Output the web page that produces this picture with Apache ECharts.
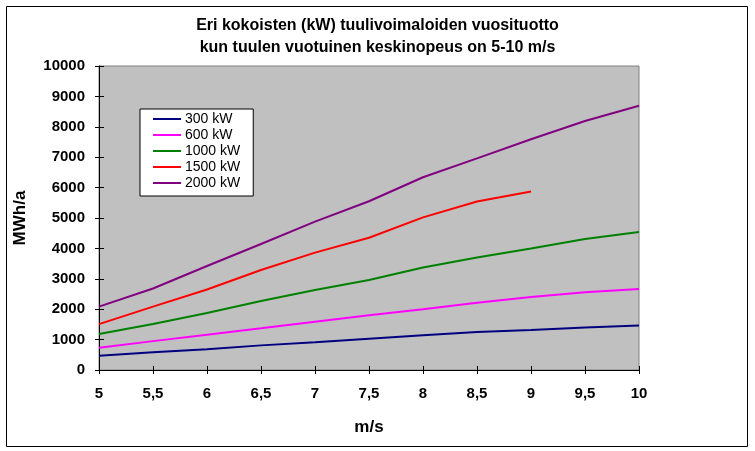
<!DOCTYPE html>
<html>
<head>
<meta charset="utf-8">
<script src="https://cdn.jsdelivr.net/npm/echarts@6/dist/echarts.min.js"></script>
<style>
  html, body { margin: 0; padding: 0; background: #fff; }
  #chart { width: 755px; height: 451px; }
</style>
</head>
<body>
<div id="chart"></div>
<script>
// tuulen nopeus (m/s)
const speeds = [5, 5.5, 6, 6.5, 7, 7.5, 8, 8.5, 9, 9.5, 10];
// vuosituotto MWh/a, luettu kuvasta
const kw300 = [470, 580, 680, 810, 910, 1030, 1140, 1250, 1315, 1400, 1460];
const kw600 = [735, 950, 1160, 1370, 1590, 1800, 2000, 2215, 2400, 2555, 2665];
const kw1000 = [1185, 1510, 1875, 2270, 2630, 2960, 3370, 3700, 4000, 4310, 4540];
const kw1500 = [1510, 2085, 2650, 3290, 3860, 4350, 5020, 5540, 5870];
const kw2000 = [2085, 2680, 3420, 4145, 4880, 5550, 6340, 6960, 7590, 8190, 8695];

const names = ['300 kW', '600 kW', '1000 kW', '1500 kW', '2000 kW'];
const colors = ['#000080', '#ff00ff', '#008000', '#ff0000', '#800080'];
const values = [kw300, kw600, kw1000, kw1500, kw2000];

const chart = echarts.init(document.getElementById('chart'));

const series = values.map((vals, i) => ({
  name: names[i],
  type: 'line',
  symbol: 'none',
  color: colors[i],
  lineStyle: { width: 2, color: colors[i] },
  data: vals.map((v, j) => [speeds[j], v]),
}));

const tickStyle = { color: '#000', width: 1 };

const option = {
  animation: false,
  textStyle: { fontFamily: 'Liberation Sans, Arial, sans-serif' },
  title: {
    text: 'Eri kokoisten (kW) tuulivoimaloiden vuosituotto\nkun tuulen vuotuinen keskinopeus on 5-10 m/s',
    left: 'center',
    top: 10,
    textStyle: { fontSize: 16, fontWeight: 'bold', color: '#000', lineHeight: 22 },
  },
  graphic: [
    {
      type: 'rect',
      shape: { x: 6.5, y: 6.5, width: 741, height: 440 },
      style: { fill: 'none', stroke: '#000', lineWidth: 1 },
      silent: true,
    },
  ],
  legend: {
    orient: 'vertical',
    left: 140,
    top: 109,
    padding: [3, 13, 6, 12],
    itemWidth: 28,
    itemHeight: 14,
    itemGap: 2,
    itemStyle: { opacity: 0 },
    backgroundColor: '#fff',
    borderColor: '#000',
    borderWidth: 1,
    borderRadius: 0,
    textStyle: { fontSize: 14, color: '#000', padding: [0, 0, 0, -1] },
    data: names,
  },
  grid: {
    left: 99,
    right: 116,
    top: 66,
    bottom: 81,
    show: true,
    backgroundColor: '#c0c0c0',
    borderColor: '#808080',
    borderWidth: 1,
  },
  xAxis: [
    {
      type: 'value',
      min: 5,
      max: 10,
      interval: 0.5,
      name: 'm/s',
      nameLocation: 'middle',
      nameGap: 49,
      nameTextStyle: { fontSize: 17, fontWeight: 'bold', color: '#000' },
      axisLine: { show: true, lineStyle: { color: '#000', width: 1 } },
      axisTick: { show: true, length: 4, inside: false, lineStyle: tickStyle },
      axisLabel: {
        margin: 16,
        fontSize: 15,
        fontWeight: 'bold',
        color: '#000',
        formatter: (v) => String(v).replace('.', ','),
      },
      splitLine: { show: false },
    },
    {
      // sisäpuolen tikit (ristitikit)
      type: 'value',
      position: 'bottom',
      min: 5,
      max: 10,
      interval: 0.5,
      axisLine: { show: false },
      axisTick: { show: true, length: 4, inside: true, lineStyle: tickStyle },
      axisLabel: { show: false },
      splitLine: { show: false },
    },
  ],
  yAxis: [
    {
      type: 'value',
      min: 0,
      max: 10000,
      interval: 1000,
      name: 'MWh/a',
      nameLocation: 'middle',
      nameGap: 70,
      nameTextStyle: { fontSize: 17, fontWeight: 'bold', color: '#000' },
      axisLine: { show: true, lineStyle: { color: '#000', width: 1 } },
      axisTick: { show: true, length: 4, inside: false, lineStyle: tickStyle },
      axisLabel: {
        margin: 14,
        fontSize: 15,
        fontWeight: 'bold',
        color: '#000',
        formatter: (v) => String(v),
      },
      splitLine: { show: false },
    },
    {
      type: 'value',
      position: 'left',
      min: 0,
      max: 10000,
      interval: 1000,
      axisLine: { show: false },
      axisTick: { show: true, length: 5, inside: true, lineStyle: tickStyle },
      axisLabel: { show: false },
      splitLine: { show: false },
    },
  ],
  series: series,
};

chart.setOption(option);
</script>
</body>
</html>
